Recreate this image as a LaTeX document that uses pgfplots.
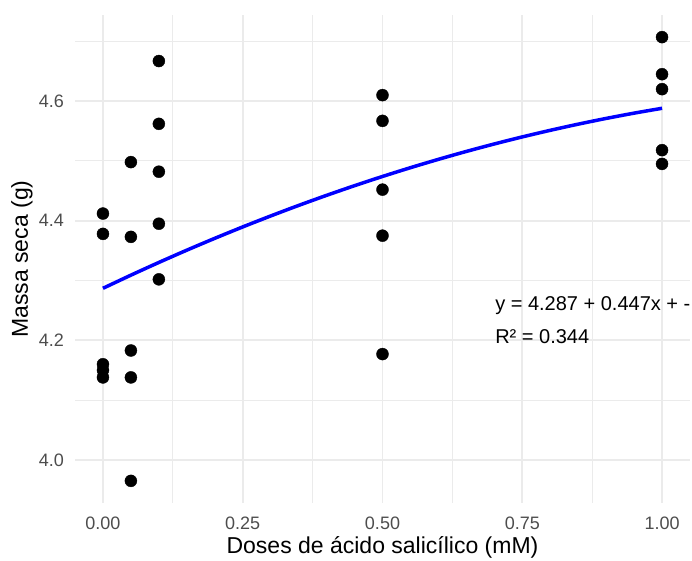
\documentclass[border=0pt]{standalone}
\usepackage{pgfplots}
\pgfplotsset{compat=1.18}
\usepackage{fontspec}
\setmainfont{Liberation Sans}
\definecolor{gridc}{HTML}{EBEBEB}
\definecolor{tickc}{HTML}{4D4D4D}
\begin{document}
\begin{tikzpicture}
\begin{axis}[
  at={(75pt,57pt)}, anchor=south west,
  scale only axis, width=615pt, height=488pt,
  xmin=-0.05, xmax=1.05, ymin=3.928, ymax=4.744,
  axis line style={draw=none},
  major tick length=0pt, minor tick length=0pt,
  xtick={0,0.25,0.5,0.75,1}, minor xtick={0.125,0.375,0.625,0.875},
  ytick={4.0,4.2,4.4,4.6}, minor ytick={4.1,4.3,4.5,4.7},
  grid=both,
  major grid style={draw=gridc, line width=1.8pt},
  minor grid style={draw=gridc, line width=0.9pt},
  /pgf/number format/assume math mode=true,
  xticklabel style={/pgf/number format/fixed, /pgf/number format/fixed zerofill, /pgf/number format/precision=2, font=\fontsize{18}{20}\selectfont, text=tickc, anchor=center, yshift=-20pt, inner sep=0pt},
  yticklabel style={/pgf/number format/fixed, /pgf/number format/fixed zerofill, /pgf/number format/precision=1, font=\fontsize{18}{20}\selectfont, text=tickc, anchor=east, xshift=-11pt, inner sep=0pt},
  scaled ticks=false,
  xlabel={Doses de ácido salicílico (mM)},
  ylabel={Massa seca (g)},
  xlabel style={font=\fontsize{23}{26}\selectfont, at={(axis description cs:0.5,-0.0902)}, anchor=center, inner sep=0pt},
  ylabel style={font=\fontsize{23}{26}\selectfont, at={(axis description cs:-0.0862,0.5)}, anchor=center, inner sep=0pt},
  clip=false,
]
\addplot[only marks, mark=*, mark size=6pt, black] coordinates {
 (0,4.412) (0,4.378) (0,4.160) (0,4.150) (0,4.138)
 (0.05,4.498) (0.05,4.373) (0.05,4.183) (0.05,4.138) (0.05,3.965)
 (0.1,4.667) (0.1,4.562) (0.1,4.482) (0.1,4.395) (0.1,4.302)
 (0.5,4.610) (0.5,4.567) (0.5,4.452) (0.5,4.375) (0.5,4.177)
 (1,4.707) (1,4.645) (1,4.620) (1,4.518) (1,4.495)
};
\addplot[blue, line width=3.5pt, smooth] coordinates {
 (0,4.28700) (0.05,4.30899) (0.1,4.33024) (0.15,4.35077) (0.2,4.37056)
 (0.25,4.38963) (0.3,4.40796) (0.35,4.42557) (0.4,4.44244) (0.45,4.45859)
 (0.5,4.47400) (0.55,4.48869) (0.6,4.50264) (0.65,4.51587) (0.7,4.52836)
 (0.75,4.54013) (0.8,4.55116) (0.85,4.56147) (0.9,4.57104) (0.95,4.57989)
 (1,4.58800)
};
\node[anchor=west, inner sep=0pt, font=\fontsize{20}{22}\selectfont] at (axis cs:0.7013,4.258) {y = 4.287 + 0.447x + -};
\node[anchor=west, inner sep=0pt, font=\fontsize{20}{22}\selectfont] at (axis cs:0.7013,4.207) {R² = 0.344};
\end{axis}
\pgfresetboundingbox
\path[use as bounding box] (0,0) rectangle (692pt,560pt);
\end{tikzpicture}
\end{document}
